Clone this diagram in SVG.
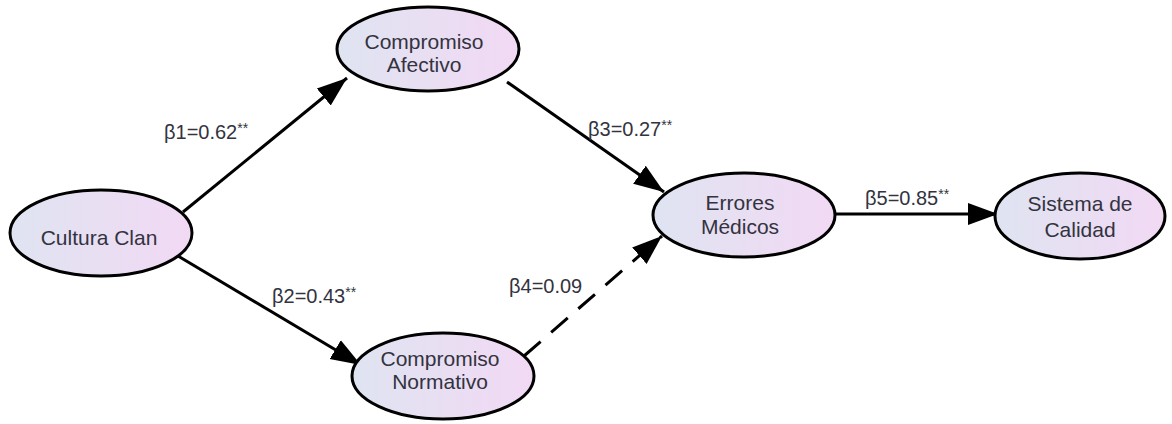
<svg xmlns="http://www.w3.org/2000/svg" width="1172" height="424" viewBox="0 0 1172 424">
<defs>
<linearGradient id="g" x1="0" y1="0" x2="1" y2="0">
<stop offset="0" stop-color="#dfe4f1"/>
<stop offset="1" stop-color="#f2d9f4"/>
</linearGradient>
<marker id="ah" markerUnits="userSpaceOnUse" markerWidth="32" markerHeight="24" refX="30" refY="11" orient="auto" viewBox="0 0 32 22">
<path d="M0,0 L30,11 L0,22 Z" fill="#000"/>
</marker>
<style>
.n{fill:url(#g);stroke:#000;stroke-width:3}
.t{font-family:"Liberation Sans",Arial,sans-serif;font-size:21px;fill:#333340;text-anchor:middle}
.l{font-family:"Liberation Sans",Arial,sans-serif;font-size:20px;fill:#333340}
.s{font-size:14px}
.e{stroke:#000;stroke-width:3;fill:none;marker-end:url(#ah)}
</style>
</defs>
<rect width="1172" height="424" fill="#fff"/>
<g id="connectors">
<line class="e" x1="183" y1="212" x2="347" y2="78"/>
<line class="e" x1="178" y1="256" x2="361" y2="365"/>
<line class="e" x1="507" y1="82" x2="664" y2="192"/>
<line class="e" x1="524" y1="356" x2="662" y2="236" stroke-dasharray="22,14"/>
<line class="e" x1="833" y1="214" x2="998" y2="214"/>
</g>
<g id="labels">
<text class="l" x="164" y="139">β1=0.62<tspan class="s" dy="-6">**</tspan></text>
<text class="l" x="588" y="136">β3=0.27<tspan class="s" dy="-6">**</tspan></text>
<text class="l" x="272" y="303">β2=0.43<tspan class="s" dy="-6">**</tspan></text>
<text class="l" x="509" y="293">β4=0.09</text>
<text class="l" x="865" y="205">β5=0.85<tspan class="s" dy="-6">**</tspan></text>
</g>
<g id="cultura">
<ellipse class="n" cx="101" cy="233" rx="91" ry="43"/>
<text class="t" x="99" y="245">Cultura Clan</text>
</g>
<g id="afectivo">
<ellipse class="n" cx="428" cy="49" rx="91" ry="42"/>
<text class="t" x="424" y="49">Compromiso</text>
<text class="t" x="424" y="72">Afectivo</text>
</g>
<g id="normativo">
<ellipse class="n" cx="443" cy="376" rx="91" ry="43"/>
<text class="t" x="440" y="366">Compromiso</text>
<text class="t" x="440" y="389">Normativo</text>
</g>
<g id="errores">
<ellipse class="n" cx="744" cy="215" rx="91" ry="42"/>
<text class="t" x="740" y="210">Errores</text>
<text class="t" x="740" y="234">Médicos</text>
</g>
<g id="sistema">
<ellipse class="n" cx="1080" cy="216" rx="85" ry="43"/>
<text class="t" x="1080" y="211">Sistema de</text>
<text class="t" x="1080" y="237">Calidad</text>
</g>
</svg>
